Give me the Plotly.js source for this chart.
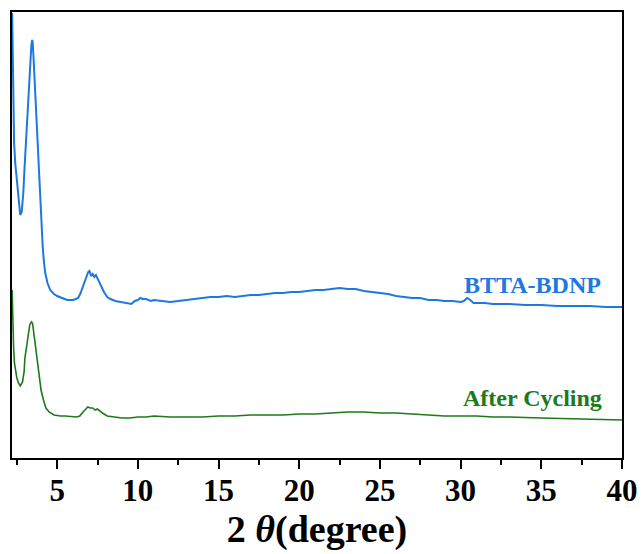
<!DOCTYPE html>
<html>
<head>
<meta charset="utf-8">
<script src="https://cdn.plot.ly/plotly-3.0.1.min.js"></script>
<style>html,body{margin:0;padding:0;background:#fff;}#chart{width:643px;height:554px;}</style>
</head>
<body>
<div id="chart"></div>
<script>
// 2θ positions (degree) and intensities (a.u.)
const blueTheta = [2.21,2.25,2.28,2.33,2.4,2.48,2.55,2.63,2.71,2.8,2.9,2.98,3.05,3.1,3.16,3.22,3.3,3.35,3.4,3.45,3.48,3.52,3.58,3.64,3.72,3.8,3.88,3.95,4.02,4.1,4.18,4.26,4.4,4.57,4.8,5.0,5.3,5.62,6.0,6.3,6.45,6.6,6.75,6.92,7.0,7.1,7.2,7.3,7.4,7.48,7.6,7.7,7.9,8.1,8.3,8.6,9.0,9.34,9.6,9.8,10.0,10.15,10.3,10.5,10.8,11,11.5,12,12.5,13,13.5,14,14.5,15,15.5,16,16.5,17,17.5,18,18.5,19,19.5,20,20.5,21,21.5,22,22.5,23,23.5,24,24.5,25,25.5,26,26.5,27,27.5,28,28.5,29,29.5,30,30.2,30.4,30.6,30.8,31.5,32,33,34,35,36,37,38,39,40];
const blueIntensity = [445,400,340,315,295,282,268,255,243,246,265,291,312,330,352,371,394,405,413,418,416,405,385,358,334,310,284,258,236,212,196,185,175,168,164,162,160,158,158,160,165,172,180,186,187,182,184,181,183,180,176,172,166,161,159,157,156,155,154,157,158,160,159,159,157,158,157,156,157,158,159,160,161,161,162,161,162,163,163,164,165,165,166,166,167,168,168,169,170,169,169,167,166,165,164,162,161,160,160,158,158,157,157,156,157,160,158,155,155,154,154,153,153,152,152,152,151,151,151];

const greenTheta = [2.21,2.25,2.3,2.35,2.42,2.5,2.6,2.71,2.85,2.95,3.0,3.08,3.15,3.22,3.3,3.36,3.42,3.48,3.55,3.62,3.7,3.8,3.9,4.0,4.15,4.3,4.5,4.8,5.2,5.5,6.2,6.4,6.6,6.75,6.9,7.05,7.2,7.35,7.48,7.65,7.8,8.1,8.5,9.0,9.5,10.0,10.5,11,12,13,14,15,16,17,18,19,20,21,22,23,24,25,26,27,28,29,30,31,32,33,35,37,38,40];
const greenIntensity = [168,130,110,95,86,80,75,72,76,86,100,110,120,128,133,135,136,134,125,118,111,96,80,68,58,50,46,43,42,42,41,42,46,49,51,50,50,48,49,47,45,42,41,40,40,41,41,42,41,41,41,42,42,43,43,43,44,44,45,46,46,45,45,44,43,42,42,42,41,41,40,39,39,38];

const seriesNames = ["BTTA-BDNP","After Cycling"];
const xTickVals = [5,10,15,20,25,30,35,40];

const blue = "#1E78E0";
const green = "#1C7A1C";

const traces = [
  {x: blueTheta, y: blueIntensity, type: "scatter", mode: "lines", name: seriesNames[0],
   line: {color: blue, width: 2}},
  {x: greenTheta, y: greenIntensity, type: "scatter", mode: "lines", name: seriesNames[1],
   line: {color: green, width: 1.6}}
];

const layout = {
  width: 643, height: 554,
  margin: {l: 12, r: 21, t: 12, b: 96},
  paper_bgcolor: "#fff", plot_bgcolor: "#fff",
  showlegend: false,
  font: {family: "Liberation Serif, Times New Roman, serif", color: "#000"},
  xaxis: {
    range: [2.2, 40],
    tickvals: xTickVals,
    ticktext: xTickVals.map(String),
    ticks: "outside", ticklen: 9, tickwidth: 2, tickcolor: "#000",
    ticklabelstandoff: -5,
    minor: {dtick: 2.5, tick0: 0, ticks: "outside", ticklen: 5, tickwidth: 2, tickcolor: "#000", showgrid: false},
    showline: true, linecolor: "#000", linewidth: 2, mirror: true,
    showgrid: false, zeroline: false,
    tickfont: {family: "Liberation Serif", size: 31, weight: "bold", color: "#000"},
    title: {text: "<b>2 <i>θ</i>(degree)</b>", font: {family: "Liberation Serif", size: 38, color: "#000"}, standoff: 2}
  },
  yaxis: {
    range: [0, 446],
    showticklabels: false, ticks: "",
    showline: true, linecolor: "#000", linewidth: 2, mirror: true,
    showgrid: false, zeroline: false
  },
  annotations: [
    {x: 38.8, y: 173, xref: "x", yref: "y", xanchor: "right", yanchor: "middle", showarrow: false,
     text: "<b>" + seriesNames[0] + "</b>", font: {family: "Liberation Serif", size: 24, color: blue}},
    {x: 38.9, y: 60, xref: "x", yref: "y", xanchor: "right", yanchor: "middle", showarrow: false,
     text: "<b>" + seriesNames[1] + "</b>", font: {family: "Liberation Serif", size: 24, color: green}}
  ]
};

Plotly.newPlot("chart", traces, layout, {displayModeBar: false, staticPlot: true});
</script>
</body>
</html>
